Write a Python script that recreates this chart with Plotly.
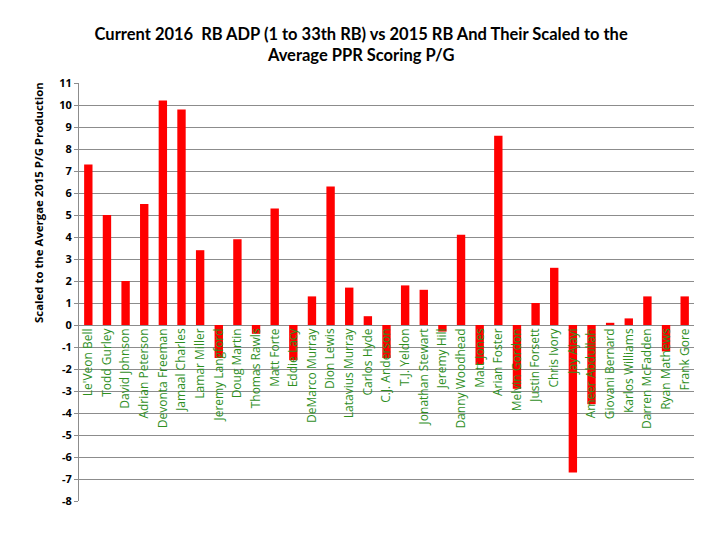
import plotly.graph_objects as go

# 2016 RB ADP order, scaled 2015 PPR points per game vs average
players = ["Le'Veon Bell", "Todd Gurley", "David Johnson", "Adrian Peterson",
           "Devonta Freeman", "Jamaal Charles", "Lamar Miller", "Jeremy Langford",
           "Doug Martin", "Thomas Rawls", "Matt Forte", "Eddie Lacy",
           "DeMarco Murray", "Dion Lewis", "Latavius Murray", "Carlos Hyde",
           "C.J. Anderson", "T.J. Yeldon", "Jonathan Stewart", "Jeremy Hill",
           "Danny Woodhead", "Matt Jones", "Arian Foster", "Melvin Gordon",
           "Justin Forsett", "Chris Ivory", "Jay Ajayi", "Ameer Abdullah",
           "Giovani Bernard", "Karlos Williams", "Darren McFadden", "Ryan Mathews",
           "Frank Gore"]
scaled = [7.3, 5.0, 2.0, 5.5,
          10.2, 9.8, 3.4, -1.5,
          3.9, -0.4, 5.3, -1.6,
          1.3, 6.3, 1.7, 0.4,
          -1.5, 1.8, 1.6, -0.3,
          4.1, -1.8, 8.6, -2.9,
          1.0, 2.6, -6.7, -3.6,
          0.1, 0.3, 1.3, -1.2,
          1.3]
y_ticks = list(range(-8, 12))

ymin, ymax = -8, 11

fig = go.Figure(go.Bar(x=players, y=scaled, marker_color="#ff0000",
                       marker_line_width=0))

# page body has an 8px margin, so the figure is a bit smaller than the window
fig.update_layout(
    width=712, height=532,
    margin=dict(l=71, r=26, t=75, b=39),
    paper_bgcolor="white", plot_bgcolor="white",
    bargap=0.55,
    showlegend=False,
    title=dict(text="<b>Current 2016  RB ADP (1 to 33th RB) vs 2015 RB And Their Scaled to the<br>Average PPR Scoring P/G</b>",
               x=0.496, xanchor="center", y=0.94, yanchor="middle",
               font=dict(family="Lato", size=16.5, color="black")),
)

fig.add_annotation(
    text="<b>Scaled to the Avergae 2015 P/G Production</b>",
    xref="paper", yref="paper", x=-0.067, y=0.715,
    xanchor="center", yanchor="middle", textangle=-90, showarrow=False,
    font=dict(family="Open Sans", size=11.4, color="black"),
)

fig.update_xaxes(
    automargin=False,
    anchor="free", position=(0 - ymin) / (ymax - ymin),
    tickangle=-90, showgrid=False, showline=False, ticks="",
    tickfont=dict(family="Open Sans", size=12, color="#2f8f1f"),
)
fig.update_yaxes(
    automargin=False,
    range=[ymin, ymax], tickvals=y_ticks,
    ticktext=["<b>%d</b>" % v for v in y_ticks],
    showgrid=True, gridcolor="#8c8c8c", gridwidth=1,
    zeroline=True, zerolinecolor="#8c8c8c", zerolinewidth=1,
    showline=True, linecolor="#8c8c8c", linewidth=1,
    ticks="outside", ticklen=4, tickcolor="#8c8c8c",
    tickfont=dict(family="Open Sans", size=11, color="black"),
)

fig.write_html("out.html")
